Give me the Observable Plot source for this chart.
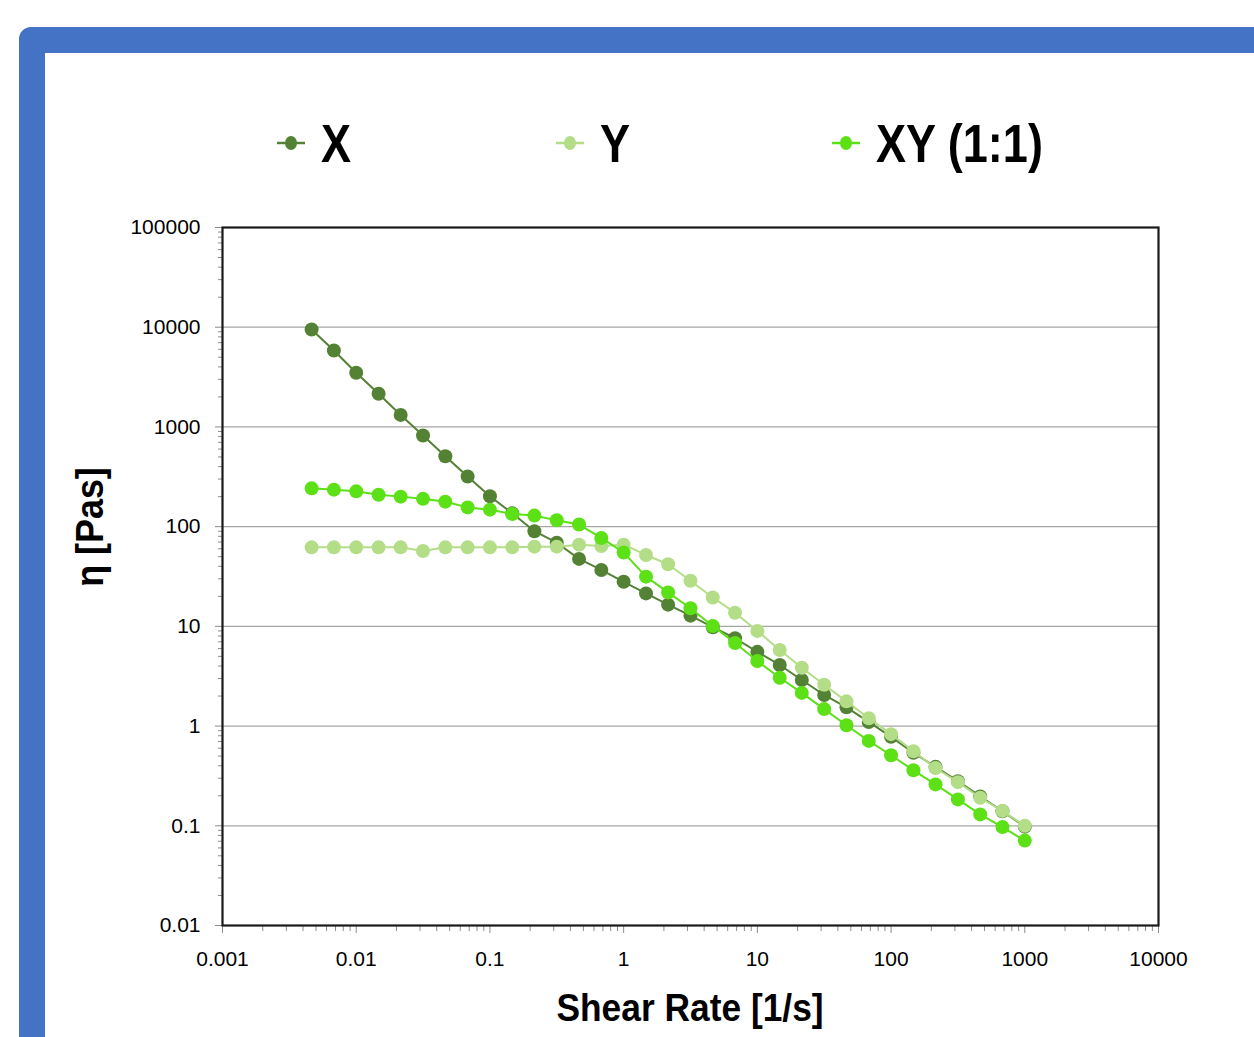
<!DOCTYPE html>
<html><head><meta charset="utf-8">
<script src="https://cdn.jsdelivr.net/npm/d3@7"></script>
<script src="https://cdn.jsdelivr.net/npm/@observablehq/plot@0.6"></script>
<style>
html,body{margin:0;padding:0;background:#fff;width:1254px;height:1037px;overflow:hidden;}
#frame{position:absolute;left:19px;top:27px;width:1300px;height:1100px;background:#4472C4;border-radius:12px;}
#inner{position:absolute;left:45px;top:53px;width:1300px;height:1100px;background:#fff;}
#chart{position:absolute;left:0;top:0;width:1254px;height:1037px;}
#chart > svg{position:absolute;left:0;top:0;}
.bold{font-family:"Liberation Sans",Arial,sans-serif;font-weight:bold;color:#000;white-space:nowrap;}
.item{position:absolute;top:108px;height:70px;display:flex;align-items:center;}
.item svg{margin-right:16px;flex:none;}
.item span{display:inline-block;font-size:53px;transform:scaleX(0.85);transform-origin:left center;}
#xtitle{position:absolute;left:690px;top:984px;font-size:38px;line-height:48px;transform:translateX(-50%) scaleX(0.93);}
#ytitle{position:absolute;left:90px;top:527px;font-size:39px;line-height:48px;transform:translate(-50%,-50%) rotate(-90deg) scaleX(0.92);}
</style></head>
<body>
<div id="frame"></div>
<div id="inner"></div>
<div id="chart"></div>
<script>
const shearRate = [0.00464,0.00681,0.01,0.0147,0.0215,0.0316,0.0464,0.0681,0.1,0.147,0.215,0.316,0.464,0.681,1,1.47,2.15,3.16,4.64,6.81,10,14.7,21.5,31.6,46.4,68.1,100,147,215,316,464,681,1000];
const etaX = [9480,5840,3490,2150,1320,821,508,318,202,136,90,69,47.5,36.8,28,21.4,16.5,12.8,9.8,7.6,5.55,4.1,2.9,2.05,1.54,1.1,0.78,0.54,0.39,0.28,0.197,0.14,0.098];
const etaY = [62,62,62,62,62,57,62,62,62,62,63,63,66,64,66,52,42,28.7,19.5,13.7,9,5.8,3.85,2.6,1.77,1.2,0.83,0.56,0.38,0.274,0.191,0.141,0.1];
const etaXY = [242,235,226,209,200,190,178,156,148,134,129,116,105,77,55,31.5,21.9,15.2,10.1,6.8,4.5,3.05,2.15,1.48,1.02,0.71,0.51,0.36,0.26,0.184,0.13,0.097,0.071];
const seriesNames = ["X","Y","XY (1:1)"];
const seriesColors = ["#548235","#B3DE87","#5CE016"];
const xTicks = [0.001,0.01,0.1,1,10,100,1000,10000];
const xTickLabels = ["0.001","0.01","0.1","1","10","100","1000","10000"];
const yTicks = [0.01,0.1,1,10,100,1000,10000,100000];
const yTickLabels = ["0.01","0.1","1","10","100","1000","10000","100000"];
const xTitle = "Shear Rate [1/s]";
const yTitle = "η [Pas]";

const seriesValues = [etaX, etaY, etaXY];
const minor = (ticks) => { const out = []; for (let i = 0; i < ticks.length - 1; i++) for (let k = 2; k <= 9; k++) out.push(ticks[i] * k); return out; };

const seriesMarks = [];
seriesNames.forEach((name, i) => {
  const rows = shearRate.map((x, j) => ({x, y: seriesValues[i][j], series: name}));
  seriesMarks.push(Plot.line(rows, {x: "x", y: "y", stroke: seriesColors[i], strokeWidth: 2}));
  seriesMarks.push(Plot.dot(rows, {x: "x", y: "y", r: 7, fill: seriesColors[i], stroke: "none"}));
});

const chart = Plot.plot({
  width: 1254, height: 1037,
  marginLeft: 222, marginRight: 96, marginTop: 227, marginBottom: 112,
  style: {background: "transparent", fontFamily: "'Liberation Sans', Arial, sans-serif", fontSize: "21px", color: "#000"},
  x: {type: "log", domain: [0.001, 10000], label: null},
  y: {type: "log", domain: [0.01, 100000], label: null},
  marks: [
    Plot.ruleY(yTicks.slice(1, -1), {stroke: "#a6a6a6", strokeWidth: 1.2}),
    Plot.axisX(minor(xTicks), {tickSize: 6, tickFormat: () => "", stroke: "#8c8c8c", label: null}),
    Plot.axisX(xTicks, {tickSize: 8, tickPadding: 18, tickFormat: d => xTickLabels[xTicks.indexOf(d)], stroke: "#8c8c8c", fill: "#000", fontSize: 21, label: null}),
    Plot.axisY(minor(yTicks), {tickSize: 4, tickFormat: () => "", stroke: "#8c8c8c", label: null}),
    Plot.axisY(yTicks, {tickSize: 7, tickPadding: 15, tickFormat: d => yTickLabels[yTicks.indexOf(d)], stroke: "#8c8c8c", fill: "#000", fontSize: 21, label: null}),
    ...seriesMarks,
    Plot.frame({stroke: "#1a1a1a", strokeWidth: 2.2})
  ]
});
const host = document.getElementById("chart");
host.appendChild(chart);

const legendLefts = [277, 556, 832];
seriesNames.forEach((name, i) => {
  const item = document.createElement("div");
  item.className = "item bold";
  item.style.left = legendLefts[i] + "px";
  item.innerHTML = `<svg width="28" height="20"><line x1="0" x2="28" y1="10" y2="10" stroke="${seriesColors[i]}" stroke-width="2.5"/><ellipse cx="14" cy="10" rx="6" ry="7" fill="${seriesColors[i]}"/></svg><span></span>`;
  item.querySelector("span").textContent = name;
  host.appendChild(item);
});
const xt = document.createElement("div"); xt.id = "xtitle"; xt.className = "bold"; xt.textContent = xTitle; host.appendChild(xt);
const yt = document.createElement("div"); yt.id = "ytitle"; yt.className = "bold"; yt.textContent = yTitle; host.appendChild(yt);
</script>
</body></html>
